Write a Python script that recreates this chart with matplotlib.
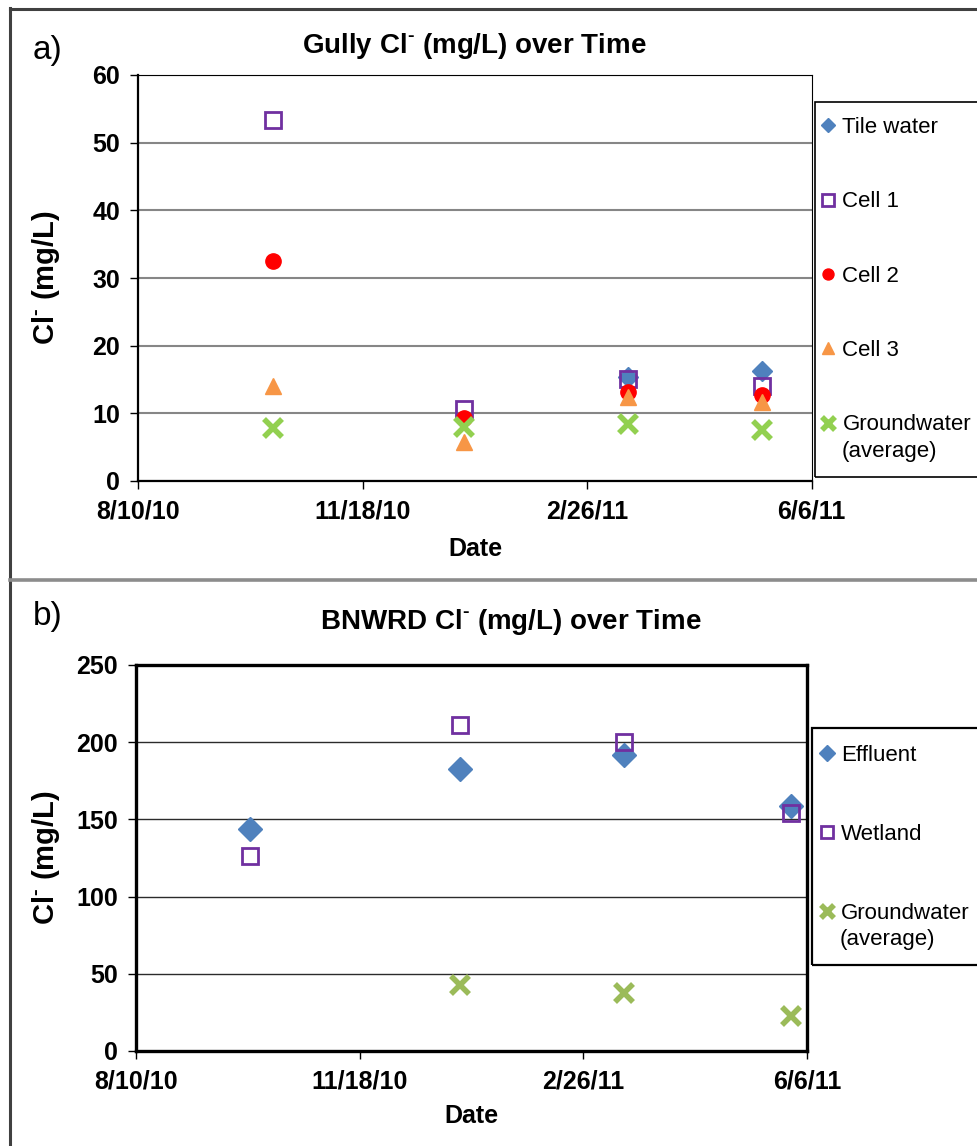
import numpy as np
import pandas as pd
import matplotlib
matplotlib.use('Agg')
import matplotlib.pyplot as plt
from matplotlib.lines import Line2D
from matplotlib.patches import Rectangle

plt.rcParams['font.family'] = ['Liberation Sans', 'DejaVu Sans']
plt.rcParams['mathtext.fontset'] = 'custom'
plt.rcParams['mathtext.rm'] = 'Liberation Sans:bold'
plt.rcParams['mathtext.bf'] = 'Liberation Sans:bold'

# ---- data: panel a (Gully) ----
gully_dates = pd.to_datetime(['2010-10-09', '2011-01-02', '2011-03-16', '2011-05-15'])
tile_water = [np.nan, np.nan, 15.4, 16.3]
cell1 = [53.3, 10.6, 15.1, 14.0]
cell2 = [32.5, 9.3, 13.2, 12.7]
cell3 = [14.0, 5.8, 12.4, 11.7]
gully_gw = [7.9, 8.0, 8.4, 7.6]

# ---- data: panel b (BNWRD) ----
bnwrd_dates = pd.to_datetime(['2010-09-30', '2011-01-02', '2011-03-16', '2011-05-30'])
effluent = [144, 182.5, 192, 159]
wetland = [126, 211, 200, 154]
bnwrd_gw = [np.nan, 43, 37.5, 22.5]

tick_dates = pd.to_datetime(['2010-08-10', '2010-11-18', '2011-02-26', '2011-06-06'])
tick_labels = ['8/10/10', '11/18/10', '2/26/11', '6/6/11']

W, H = 977, 1146
fig = plt.figure(figsize=(W / 100, H / 100), dpi=100)

def fx(px):
    return px / W

def fy(py):
    return 1 - py / H

# page frame lines
fig.add_artist(Line2D([fx(10), fx(10)], [fy(8), 0], transform=fig.transFigure, color='#404040', lw=2.2))
fig.add_artist(Line2D([fx(10), 1], [fy(9), fy(9)], transform=fig.transFigure, color='#404040', lw=2.2))
fig.add_artist(Line2D([fx(10), 1], [fy(580), fy(580)], transform=fig.transFigure, color='#8c8c8c', lw=2.6))

title_a = r'Gully Cl$^{\text{-}}$ (mg/L) over Time'
title_b = r'BNWRD Cl$^{\text{-}}$ (mg/L) over Time'
ylab = r'Cl$^{\text{-}}$ (mg/L)'

# ---------------- panel a ----------------
ax1 = fig.add_axes([fx(138.3), fy(481), fx(811.8) - fx(138.3), fy(75) - fy(481)])
ax1.plot(gully_dates, tile_water, ls='none', marker='D', ms=10, color='#4F81BD', label='Tile water', zorder=3)
ax1.plot(gully_dates, cell1, ls='none', marker='s', ms=12, mfc='none', mec='#7030A0', mew=2, label='Cell 1', zorder=3)
ax1.plot(gully_dates, cell2, ls='none', marker='o', ms=11, color='#FF0000', label='Cell 2', zorder=3)
ax1.plot(gully_dates, cell3, ls='none', marker='^', ms=12, color='#F79646', label='Cell 3', zorder=3)
ax1.plot(gully_dates, gully_gw, ls='none', marker='x', ms=13, mew=4, color='#92D050',
         label='Groundwater', zorder=3)

ax1.set_xlim(tick_dates[0], tick_dates[-1])
ax1.set_ylim(0, 60)
ax1.set_yticks(range(0, 61, 10))
ax1.yaxis.grid(True, color='#868686', lw=1.5)
ax1.set_axisbelow(True)
for s in ['left', 'bottom']:
    ax1.spines[s].set_linewidth(1.6)
for s in ['top', 'right']:
    ax1.spines[s].set_linewidth(0.8)

# ---------------- panel b ----------------
ax2 = fig.add_axes([fx(136), fy(1051), fx(807) - fx(136), fy(665) - fy(1051)])
ax2.plot(bnwrd_dates, effluent, ls='none', marker='D', ms=12, color='#4F81BD', label='Effluent', zorder=3)
ax2.plot(bnwrd_dates, wetland, ls='none', marker='s', ms=12, mfc='none', mec='#7030A0', mew=2, label='Wetland', zorder=3)
ax2.plot(bnwrd_dates, bnwrd_gw, ls='none', marker='x', ms=13, mew=4, color='#9BBB59',
         label='Groundwater', zorder=3)

ax2.set_xlim(tick_dates[0], tick_dates[-1])
ax2.set_ylim(0, 250)
ax2.set_yticks(range(0, 251, 50))
ax2.yaxis.grid(True, color='#2b2b2b', lw=1.0)
ax2.set_axisbelow(True)
for s in ax2.spines.values():
    s.set_linewidth(2.4)

for ax in (ax1, ax2):
    ax.set_xticks(tick_dates)
    ax.set_xticklabels(tick_labels)
    ax.tick_params(axis='both', direction='out', length=6, width=1, labelsize=18, pad=7)
    for lab in ax.get_xticklabels() + ax.get_yticklabels():
        lab.set_fontweight('bold')
    ax.set_xlabel('Date', fontsize=18, fontweight='bold')
    ax.set_ylabel(ylab, fontsize=21, fontweight='bold')

ax1.xaxis.set_label_coords(0.5, -0.138)
ax2.xaxis.set_label_coords(0.5, -0.137)
ax1.yaxis.set_label_coords(-0.113, 0.5)
ax2.yaxis.set_label_coords(-0.111, 0.5)

# legends: entries placed without frame, frame drawn as separate box
leg_kw = dict(loc='upper left', bbox_transform=fig.transFigure, fontsize=16, frameon=False,
              borderpad=0, borderaxespad=0, handlelength=0.5, handletextpad=0.4, markerscale=0.72)
ax1.legend(bbox_to_anchor=(fx(822.5), fy(117)), labelspacing=2.4, **leg_kw)
ax2.legend(bbox_to_anchor=(fx(821), fy(745)), labelspacing=2.6, **leg_kw)
fig.text(fx(842), fy(452), '(average)', ha='left', va='center', fontsize=16)
fig.text(fx(840), fy(940), '(average)', ha='left', va='center', fontsize=16)
fig.add_artist(Rectangle((fx(815), fy(477)), fx(1000) - fx(815), fy(102) - fy(477),
                         transform=fig.transFigure, fill=False, edgecolor='black', lw=1.2))
fig.add_artist(Rectangle((fx(812), fy(965)), fx(1000) - fx(812), fy(728) - fy(965),
                         transform=fig.transFigure, fill=False, edgecolor='black', lw=1.6))

# titles and panel letters
fig.text(fx(474), fy(46), title_a, ha='center', va='center', fontsize=20, fontweight='bold')
fig.text(fx(511), fy(622), title_b, ha='center', va='center', fontsize=20, fontweight='bold')
fig.text(fx(33), fy(50), 'a)', ha='left', va='center', fontsize=24)
fig.text(fx(33), fy(616), 'b)', ha='left', va='center', fontsize=24)

fig.savefig('out.png', dpi=100)
